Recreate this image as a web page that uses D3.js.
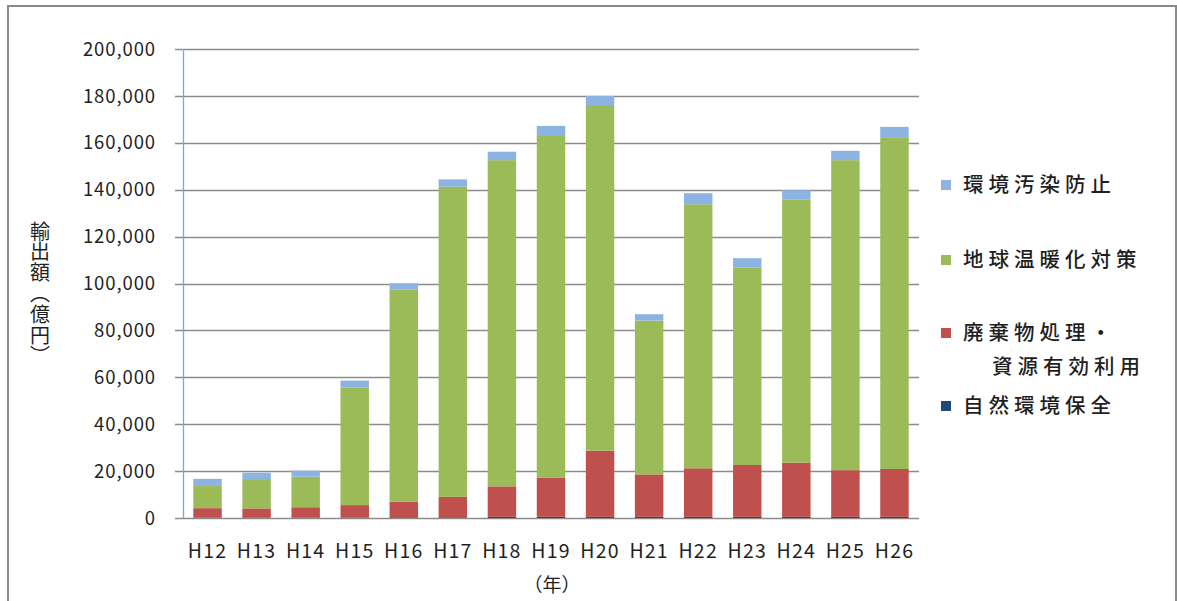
<!DOCTYPE html>
<html>
<head>
<meta charset="utf-8">
<script src="https://cdn.jsdelivr.net/npm/d3@7"></script>
<style>
  body { margin: 0; background: #fff; }
  svg text { font-family: "Noto Sans CJK JP", "Noto Sans", sans-serif; fill: #1f1f1f; }
</style>
</head>
<body>
<svg id="chart"></svg>
<script>
const width = 1177;
const height = 601;

// 年度
const years = ["H12", "H13", "H14", "H15", "H16", "H17", "H18", "H19", "H20", "H21", "H22", "H23", "H24", "H25", "H26"];

// 輸出額 (億円) by field
const natural = [200, 200, 200, 200, 300, 300, 500, 500, 500, 500, 500, 500, 500, 500, 500];
const waste = [4000, 3900, 4400, 5300, 6700, 8700, 13000, 16600, 28200, 18100, 20700, 22100, 23100, 19900, 20400];
const warming = [9800, 12500, 13000, 50200, 90500, 132300, 139100, 146200, 147400, 65600, 112600, 84200, 112300, 132200, 141500];
const pollution = [2700, 2700, 2600, 2900, 2600, 3100, 3600, 3900, 3900, 2700, 4700, 4000, 3900, 4000, 4400];

const yTicks = [0, 20000, 40000, 60000, 80000, 100000, 120000, 140000, 160000, 180000, 200000];

const seriesKeys = ["natural", "waste", "warming", "pollution"];
const seriesColor = {
  natural: "#1F497D",
  waste: "#C0504D",
  warming: "#9BBB59",
  pollution: "#8DB3E2",
};

// legend is listed top -> bottom
const legendItems = [
  { key: "pollution", lines: ["環境汚染防止"] },
  { key: "warming", lines: ["地球温暖化対策"] },
  { key: "waste", lines: ["廃棄物処理・", "資源有効利用"] },
  { key: "natural", lines: ["自然環境保全"] },
];
const legendY = [185, 260, 333, 406];

const rows = years.map((y, i) => ({
  year: y,
  natural: natural[i],
  waste: waste[i],
  warming: warming[i],
  pollution: pollution[i],
}));

const svg = d3.select("#chart").attr("width", width).attr("height", height);

// outer frame
svg.append("rect")
  .attr("x", 8).attr("y", 6)
  .attr("width", 1168).attr("height", 640)
  .attr("fill", "none")
  .attr("stroke", "#8a8a8a")
  .attr("stroke-width", 2);

const plotLeft = 183, plotRight = 919, plotTop = 49, plotBottom = 518;

const x = d3.scaleBand().domain(years).range([plotLeft, plotRight]).paddingInner(0.42).paddingOuter(0.21);
const y = d3.scaleLinear().domain([0, 200000]).range([plotBottom, plotTop]);

// gridlines (incl. the small tick stubs left of the axis)
svg.append("g")
  .selectAll("line")
  .data(yTicks)
  .join("line")
  .attr("x1", plotLeft - 8)
  .attr("x2", plotRight)
  .attr("y1", (d) => Math.round(y(d)) + 0.5)
  .attr("y2", (d) => Math.round(y(d)) + 0.5)
  .attr("stroke", "#8c8c8c")
  .attr("stroke-width", 1.3);

// y tick labels
svg.append("g")
  .selectAll("text")
  .data(yTicks)
  .join("text")
  .attr("x", 156)
  .attr("y", (d) => y(d))
  .attr("dy", "0.36em")
  .attr("text-anchor", "end")
  .attr("font-size", 18.5)
  .attr("letter-spacing", 0.9)
  .text((d) => d3.format(",")(d));

const stack = d3.stack().keys(seriesKeys)(rows);

svg.append("g")
  .selectAll("g")
  .data(stack)
  .join("g")
  .attr("fill", (s) => seriesColor[s.key])
  .selectAll("rect")
  .data((s) => s)
  .join("rect")
  .attr("x", (d) => x(d.data.year))
  .attr("width", x.bandwidth())
  .attr("y", (d) => y(d[1]))
  .attr("height", (d) => y(d[0]) - y(d[1]));

// vertical axis line
svg.append("line")
  .attr("x1", plotLeft + 0.5).attr("x2", plotLeft + 0.5)
  .attr("y1", plotTop).attr("y2", plotBottom)
  .attr("stroke", "#7FA6DA")
  .attr("stroke-width", 1.3);

// x labels
svg.append("g")
  .selectAll("text")
  .data(years)
  .join("text")
  .attr("x", (d) => x(d) + x.bandwidth() / 2)
  .attr("y", 558)
  .attr("text-anchor", "middle")
  .attr("font-size", 19.5)
  .attr("letter-spacing", 1.2)
  .text((d) => d);

svg.append("text")
  .attr("x", 552)
  .attr("y", 592)
  .attr("text-anchor", "middle")
  .attr("font-size", 19)
  .text("（年）");

// y axis title, vertical writing (brackets take their vertical forms)
svg.append("text")
  .attr("x", 40)
  .attr("y", 221)
  .attr("font-size", 20)
  .attr("letter-spacing", 0.8)
  .style("writing-mode", "vertical-rl")
  .text("輸出額（億円）");

// legend
const legend = svg.append("g");
legendItems.forEach((item, i) => {
  const cy = legendY[i];
  legend.append("rect")
    .attr("x", 941)
    .attr("y", cy - 5)
    .attr("width", 10)
    .attr("height", 10)
    .attr("fill", seriesColor[item.key]);
  item.lines.forEach((ln, j) => {
    legend.append("text")
      .attr("x", j === 0 ? 963 : 992)
      .attr("y", cy + j * 34)
      .attr("dy", "0.36em")
      .attr("font-size", 20.5)
      .attr("font-weight", 500)
      .attr("letter-spacing", 5)
      .text(ln);
  });
});
</script>
</body>
</html>
